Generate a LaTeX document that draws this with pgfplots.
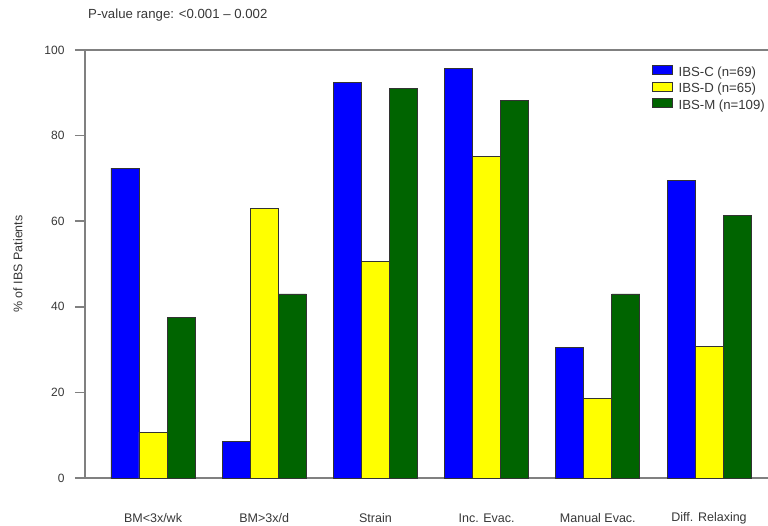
\documentclass[border=0pt]{standalone}
\usepackage{pgfplots}
\pgfplotsset{compat=1.18}
\usepackage{fontspec}
\setmainfont{Liberation Sans}
\definecolor{ibsc}{RGB}{0,0,255}
\definecolor{ibsd}{RGB}{255,255,0}
\definecolor{ibsm}{RGB}{0,100,0}
\definecolor{axgray}{RGB}{128,128,128}
\definecolor{txt}{RGB}{55,55,55}
\pgfplotsset{boxlegend/.style={legend image code/.code={\draw[##1] (0pt,-1.5pt) rectangle (20pt,7.5pt); \path[draw=none,fill=none] (0pt,0pt) -- (25pt,0pt);}}}
\begin{document}
\begin{tikzpicture}
\path[use as bounding box] (-85pt,-47pt) rectangle (683pt,478pt);
\begin{axis}[
  at={(0pt,0pt)}, anchor=south west,
  scale only axis, width=683pt, height=428pt,
  xmin=-0.6115, xmax=5.53, ymin=0, ymax=100,
  axis x line*=box, axis y line*=left,
  axis line style={draw=axgray, line width=1.5pt},
  ytick={0,20,40,60,80,100},
  ytick style={draw=axgray, line width=1.5pt},
  tick align=outside, major tick length=10pt,
  xtick={0,1,2,3,4,5},
  xticklabels={BM<3x/wk, BM>3x/d, Strain, Inc. Evac., Manual Evac., Diff. Relaxing},
  xtick style={draw=none},
  xticklabel style={anchor=center, yshift=-30pt, font=\fontsize{12.5}{14}\selectfont, text=txt},
  yticklabel style={font=\fontsize{12}{14}\selectfont, text=txt, xshift=-7pt},
  /pgf/number format/assume math mode=true,
  every axis y label/.style={at={(axis description cs:-0.0981,0.5)}, rotate=90, anchor=center, font=\fontsize{12.5}{14}\selectfont, text=txt},
  ylabel={\% of IBS Patients},
  ybar=0pt, bar width=0.252,
  legend style={draw=none, fill=none, at={(axis description cs:0.826,0.970)}, anchor=north west,
    font=\fontsize{13.2}{15}\selectfont, text=txt, row sep=1.7pt,
    nodes={inner sep=0.8pt, text height=9.5pt, text depth=3pt}},
  legend cell align=left,
]
\addplot[fill=ibsc, draw=black!80, line width=0.9pt, bar shift=-0.252, boxlegend]
  coordinates {(0,72.4) (1,8.6) (2,92.5) (3,95.6) (4,30.6) (5,69.6)};
\addplot[fill=ibsd, draw=black!80, line width=0.9pt, bar shift=0, boxlegend]
  coordinates {(0,10.7) (1,62.9) (2,50.5) (3,75.2) (4,18.5) (5,30.8)};
\addplot[fill=ibsm, draw=black!80, line width=0.9pt, bar shift=0.252, boxlegend]
  coordinates {(0,37.6) (1,43.0) (2,90.9) (3,88.1) (4,43.0) (5,61.4)};
\legend{IBS-C (n=69), IBS-D (n=65), IBS-M (n=109)}
\end{axis}
\node[anchor=west, font=\fontsize{13.2}{15}\selectfont, text=txt, inner sep=0pt] at (3pt,463pt) {P-value range: <0.001 – 0.002};
\end{tikzpicture}
\end{document}
